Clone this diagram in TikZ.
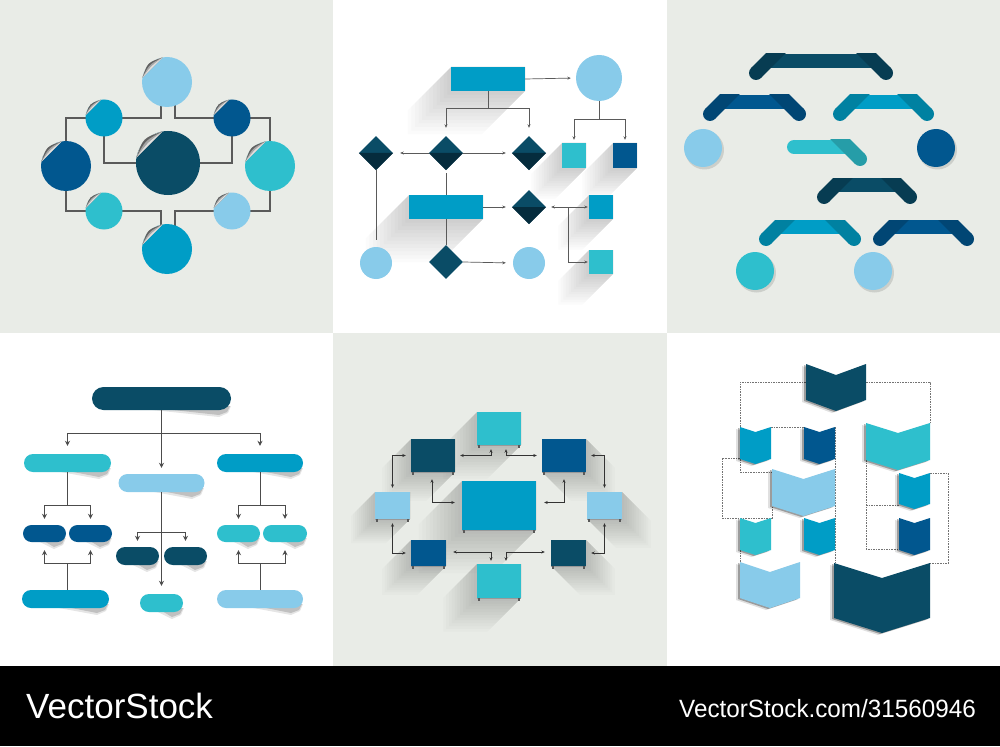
\documentclass[tikz,border=0pt]{standalone}
\usepackage{fontspec}
\setmainfont{Liberation Sans}
\usetikzlibrary{arrows.meta,shapes.geometric,calc}
\pgfdeclarelayer{panel}
\pgfdeclarelayer{lines}
\pgfsetlayers{panel,lines,main}
\definecolor{bgG}{HTML}{E9ECE7}
\definecolor{dteal}{HTML}{0A4C66}
\definecolor{dtealD}{HTML}{073C52}
\definecolor{dtealB}{HTML}{052C3D}
\definecolor{navy}{HTML}{01578F}
\definecolor{navyD}{HTML}{014674}
\definecolor{mblue}{HTML}{009DC6}
\definecolor{mblueD}{HTML}{0081A1}
\definecolor{turq}{HTML}{2EBFCD}
\definecolor{turqD}{HTML}{269DA8}
\definecolor{lblue}{HTML}{88CBEA}
\definecolor{lineG}{HTML}{5A5A5A}
% peeled sticker corner
\newcommand\stickcurl[2]{%
  \fill[bgG] ($(#1.center)+(-100:#2)$) arc[start angle=-100,end angle=-170,radius=#2] -- cycle;
  \fill[black!62] ($(#1.center)+(-170:#2)$) .. controls ($(#1.center)+(-135:{1.1*#2})$) .. ($(#1.center)+(-100:#2)$) -- cycle;
  \fill[black!35] ($(#1.center)+(-170:#2)$) .. controls ($(#1.center)+(-135:{1.0*#2})$) .. ($(#1.center)+(-100:#2)$) -- cycle;
  \fill[black!12] ($(#1.center)+(-170:#2)$) .. controls ($(#1.center)+(-135:{0.9*#2})$) .. ($(#1.center)+(-100:#2)$) -- cycle;
}
% bracket: xL, xR, yEnd, main, dark
\newcommand\brk[5]{%
  \fill[#4] ({#1+11},{#3-19}) rectangle ({#2-11},{#3-5});
  \begin{scope}
    \clip ({#1-20},{#3-19}) rectangle ({#2+20},{#3+20});
    \draw[#5,line width=14] (#1,#3) -- ({#1+30},{#3-30});
    \draw[#5,line width=14] (#2,#3) -- ({#2-30},{#3-30});
  \end{scope}
  \fill[#5] (#1,#3) circle (7);
  \fill[#5] (#2,#3) circle (7);
}
% long shadow to lower left: x1,y1,x2,y2,L
\newcommand\lshL[5]{%
  \foreach \f in {0.08,0.16,...,1.0}{%
  \fill[black,opacity=.014]
   (#1,#2) -- (#3,#2) -- (#3,#4) -- ({#3-#5*\f},{#4+#5*\f}) -- ({#1-#5*\f},{#4+#5*\f}) -- ({#1-#5*\f},{#2+#5*\f}) -- cycle;}
}
% long shadow to lower right
\newcommand\lshR[5]{%
  \foreach \f in {0.08,0.16,...,1.0}{%
  \fill[black,opacity=.014]
   (#1,#2) -- (#3,#2) -- ({#3+#5*\f},{#2+#5*\f}) -- ({#3+#5*\f},{#4+#5*\f}) -- ({#1+#5*\f},{#4+#5*\f}) -- (#1,#4) -- cycle;}
}
% pill shadow: x1,x2,ybottom
\newcommand\pshadow[3]{%
  \fill[black,opacity=.10] ({#1+0.3*(#2-#1)},{#3-2}) -- ({#2-12},{#3+7}) -- ({#2-3},{#3+3}) -- (#2,{#3-4}) -- cycle;
  \fill[black,opacity=.16] ({#1+0.45*(#2-#1)},{#3-2}) -- ({#2-12},{#3+5}) -- ({#2-4},{#3+2}) -- ({#2-1},{#3-4}) -- cycle;
}
% feet under panel-5 boxes
\newcommand\legs[1]{%
  \fill[black!40] (#1.south west) rectangle ($(#1.south east)+(0,1.2)$);
  \fill[black!65] ($(#1.south west)+(1.5,0)$) rectangle ($(#1.south west)+(3,3)$);
  \fill[black!65] ($(#1.south east)+(-3,0)$) rectangle ($(#1.south east)+(-1.5,3)$);
}
% chevron: x1,x2,ytop,depth,ybottom,colour
\newcommand\chev[6]{%
  \fill[black,opacity=.12] ({#1-4},{#3+2}) -- ({(#1+#2)/2-4},{#3+#4+2}) -- ({#2-4},{#3+2}) -- ({#2-4},{#5+2}) -- ({(#1+#2)/2-4},{#5+#4+2}) -- ({#1-4},{#5+2}) -- cycle;
  \fill[black,opacity=.30] ({#1-2},{#3+1}) -- ({(#1+#2)/2-2},{#3+#4+1}) -- ({#2-2},{#3+1}) -- ({#2-2},{#5+1}) -- ({(#1+#2)/2-2},{#5+#4+1}) -- ({#1-2},{#5+1}) -- cycle;
  \fill[#6] (#1,#3) -- ({(#1+#2)/2},{#3+#4}) -- (#2,#3) -- (#2,#5) -- ({(#1+#2)/2},{#5+#4}) -- (#1,#5) -- cycle;
}
\begin{document}
\begin{tikzpicture}[x=1pt,y=-1pt,
  disc/.style={circle, inner sep=0, draw=none},
  box/.style={rectangle, inner sep=0, draw=none},
  dia/.style={diamond, aspect=1, inner sep=0, minimum width=34, minimum height=34, draw=none},
  pill/.style={rectangle, inner sep=0, draw=none, rounded corners=9, minimum height=18},
  ln1/.style={draw=lineG, line width=1.1},
  ln2/.style={draw=lineG, line width=.7},
  a2/.style={draw=lineG, line width=.7, -{Stealth[length=3.5pt,width=3pt]}},
  ln4/.style={draw=black!70, line width=.8},
  a4/.style={draw=black!70, line width=.8, -{Stealth[length=5pt,width=5pt]}},
  a5/.style={draw=black!80, line width=.7, {Stealth[length=3.5pt,width=3pt]}-{Stealth[length=3.5pt,width=3pt]}},
  dsh/.style={draw=black!55, line width=.6, dash pattern=on 1.6pt off 1pt}]
\useasboundingbox (0,0) rectangle (1000,746);
\begin{pgfonlayer}{panel}
\fill[bgG] (0,0) rectangle (333,333);
\fill[white] (333,0) rectangle (667,333);
\fill[bgG] (667,0) rectangle (1000,333);
\fill[white] (0,333) rectangle (333,666);
\fill[bgG] (333,333) rectangle (667,666);
\fill[white] (667,333) rectangle (1000,666);
\fill[black] (0,666) rectangle (1000,746);
\end{pgfonlayer}

% ================= Panel 1 =================
\node[disc, fill=lblue, minimum size=50] (c1top) at (167,82) {};
\node[disc, fill=mblue, minimum size=37] (c1tl) at (104,118) {};
\node[disc, fill=navy, minimum size=37] (c1tr) at (232,118) {};
\node[disc, fill=navy, minimum size=50] (c1l) at (66,166) {};
\node[disc, fill=dteal, minimum size=64] (c1c) at (168,163) {};
\node[disc, fill=turq, minimum size=50] (c1r) at (270,166) {};
\node[disc, fill=turq, minimum size=37] (c1bl) at (104,211) {};
\node[disc, fill=lblue, minimum size=37] (c1br) at (232,211) {};
\node[disc, fill=mblue, minimum size=50] (c1b) at (167,249) {};
\begin{pgfonlayer}{lines}
\draw[ln1] ($(c1top.center)+(-6,0)$) |- (c1tl.center);
\draw[ln1] ($(c1top.center)+(8,0)$) |- (c1tr.center);
\draw[ln1] (c1tl.center) -| (c1l.center);
\draw[ln1] (c1tr.center) -| (c1r.center);
\draw[ln1] (c1tl.center) |- (c1c.center);
\draw[ln1] (c1tr.center) |- (c1c.center);
\draw[ln1] (c1l.center) |- (c1bl.center);
\draw[ln1] (c1r.center) |- (c1br.center);
\draw[ln1] (c1bl.center) -| ($(c1b.center)+(-6,0)$);
\draw[ln1] (c1br.center) -| ($(c1b.center)+(8,0)$);
\end{pgfonlayer}
\stickcurl{c1top}{25}
\stickcurl{c1tl}{18.5}
\stickcurl{c1tr}{18.5}
\stickcurl{c1l}{25}
\stickcurl{c1c}{32}
\stickcurl{c1r}{25}
\stickcurl{c1bl}{18.5}
\stickcurl{c1br}{18.5}
\stickcurl{c1b}{25}

% ================= Panel 2 =================
\lshL{451}{67}{525}{91}{45}
\lshL{562}{143}{586}{168}{32}
\lshL{613}{143}{637}{168}{32}
\lshL{409}{195}{483}{219}{45}
\lshL{589}{195}{613}{219}{32}
\lshL{589}{250}{613}{274}{32}
\node[box, fill=mblue, minimum width=74, minimum height=24] (r2a) at (488,79) {};
\node[disc, fill=lblue, minimum size=46] (c2a) at (599,78) {};
\node[dia, fill=dteal] (d2l) at (376,153) {};
\node[dia, fill=dteal] (d2m) at (446,153) {};
\node[dia, fill=dteal] (d2r) at (529,153) {};
\fill[dtealB] (d2l.west) -- (d2l.east) -- (d2l.south) -- cycle;
\fill[dtealB] (d2m.west) -- (d2m.east) -- (d2m.south) -- cycle;
\fill[dtealB] (d2r.west) -- (d2r.east) -- (d2r.south) -- cycle;
\node[box, fill=turq, minimum width=24, minimum height=25] (s2t) at (574,155.5) {};
\node[box, fill=navy, minimum width=24, minimum height=25] (s2n) at (625,155.5) {};
\node[box, fill=mblue, minimum width=74, minimum height=24] (r2b) at (446,207) {};
\node[dia, fill=dteal] (d2b) at (529,207) {};
\fill[dtealB] (d2b.west) -- (d2b.east) -- (d2b.south) -- cycle;
\node[box, fill=mblue, minimum width=24, minimum height=24] (s2m) at (601,207) {};
\node[box, fill=turq, minimum width=24, minimum height=24] (s2q) at (601,262) {};
\node[disc, fill=lblue, minimum size=32] (c2l) at (376,263) {};
\node[dia, fill=dteal] (d2c) at (446,262) {};
\node[disc, fill=lblue, minimum size=32] (c2r) at (529,263) {};
\draw[a2, shorten >=5] (r2a.east) -- (c2a.west);
\coordinate (j2a) at ($(r2a.south)+(0,17)$);
\draw[ln2] (r2a.south) -- (j2a);
\draw[a2, shorten >=8] (j2a) -| (d2m.north);
\draw[a2, shorten >=8] (j2a) -| (d2r.north);
\coordinate (j2b) at ($(c2a.south)+(0,18)$);
\draw[ln2] (c2a.south) -- (j2b);
\draw[a2, shorten >=3] (j2b) -| (s2t.north);
\draw[a2, shorten >=3] (j2b) -| (s2n.north);
\draw[a2, shorten >=7] (d2m.west) -- (d2l.east);
\draw[a2, shorten >=6] (d2m.east) -- (d2r.west);
\draw[ln2, shorten >=7] (d2l.south) -- (c2l.north);
\draw[ln2, shorten <=3] (d2m.south) -- (r2b.north);
\draw[ln2] (r2b.south) -- (d2c.north);
\draw[a2, shorten >=7] (d2c.east) -- (c2r.west);
\draw[a2, shorten >=6] (r2b.east) -- (d2b.west);
\coordinate (j2c) at ($(d2b.east)+(22,0)$);
\draw[a2, shorten >=5] (j2c) -- (d2b.east);
\draw[a2, shorten >=1] (j2c) -- (s2m.west);
\draw[a2, shorten >=1] (j2c) |- (s2q.west);

% ================= Panel 3 =================
\brk{756}{886}{73}{dteal}{dtealD}
\brk{710}{799}{114}{navy}{navyD}
\brk{840}{927}{114}{mblue}{mblueD}
\fill[turq] (794,140) rectangle (849,154);
\fill[turq] (794,147) circle (7);
\begin{scope}
  \clip (780,140) rectangle (880,180);
  \draw[turqD,line width=14] (860,159) -- (830,129);
\end{scope}
\fill[turqD] (860,159) circle (7);
\brk{824}{910}{197}{dteal}{dtealD}
\brk{766}{854}{239}{mblue}{mblueD}
\brk{880}{967}{239}{navy}{navyD}
\fill[black,opacity=.12] (704.5,150) circle (19.5);
\fill[black,opacity=.12] (937.5,150) circle (19.5);
\fill[black,opacity=.12] (756.5,273) circle (19.5);
\fill[black,opacity=.12] (874.5,273) circle (19.5);
\node[disc, fill=lblue, minimum size=38] (c3a) at (703,148) {};
\node[disc, fill=navy, minimum size=38] (c3b) at (936,148) {};
\node[disc, fill=turq, minimum size=38] (c3c) at (755,271) {};
\node[disc, fill=lblue, minimum size=38] (c3d) at (873,271) {};

% ================= Panel 4 =================
\pshadow{92}{231}{410}
\pshadow{24}{111}{472}
\pshadow{217}{303}{472}
\pshadow{118}{204}{492}
\pshadow{23}{66}{542}
\pshadow{69}{112}{542}
\pshadow{116}{159}{565}
\pshadow{164}{207}{565}
\pshadow{217}{260}{542}
\pshadow{263}{307}{542}
\pshadow{22}{109}{608}
\pshadow{141}{184}{612}
\pshadow{217}{303}{608}
\node[pill, fill=dteal, minimum width=139, minimum height=23, rounded corners=11.5] (p4top) at (161.5,398.5) {};
\node[pill, fill=turq, minimum width=87] (p4l) at (67.5,463) {};
\node[pill, fill=mblue, minimum width=86] (p4r) at (260,463) {};
\node[pill, fill=lblue, minimum width=86] (p4m) at (161.5,483) {};
\node[pill, fill=navy, minimum width=43, minimum height=17, rounded corners=8.5] (p4n1) at (44.5,533.5) {};
\node[pill, fill=navy, minimum width=43, minimum height=17, rounded corners=8.5] (p4n2) at (90.5,533.5) {};
\node[pill, fill=dteal, minimum width=43] (p4d1) at (137.5,556) {};
\node[pill, fill=dteal, minimum width=43] (p4d2) at (185.5,556) {};
\node[pill, fill=turq, minimum width=43, minimum height=17, rounded corners=8.5] (p4t1) at (238.5,533.5) {};
\node[pill, fill=turq, minimum width=44, minimum height=17, rounded corners=8.5] (p4t2) at (285,533.5) {};
\node[pill, fill=mblue, minimum width=87] (p4bl) at (65.5,599) {};
\node[pill, fill=turq, minimum width=43] (p4bm) at (161.5,603) {};
\node[pill, fill=lblue, minimum width=86] (p4br) at (260,599) {};
\coordinate (j4a) at ($(p4top.south)+(0,23)$);
\draw[ln4] (p4top.south) -- (j4a);
\draw[a4, shorten >=6] (j4a) -- (p4m.north);
\draw[a4, shorten >=8] (j4a) -| (p4l.north);
\draw[a4, shorten >=8] (j4a) -| (p4r.north);
\coordinate (j4b) at ($(p4l.south)+(0,33)$);
\draw[ln4] (p4l.south) -- (j4b);
\draw[a4, shorten >=6] (j4b) -| (p4n1.north);
\draw[a4, shorten >=6] (j4b) -| (p4n2.north);
\coordinate (j4c) at ($(p4l.south |- p4bl.north)+(0,-26)$);
\draw[ln4] (j4c) -- (j4c |- p4bl.north);
\draw[a4, shorten >=8] (j4c) -| (p4n1.south);
\draw[a4, shorten >=8] (j4c) -| (p4n2.south);
\draw[a4, shorten >=8] (p4m.south) -- (p4bm.north);
\coordinate (j4d) at ($(p4m.south)+(0,40)$);
\draw[a4, shorten >=6] (j4d) -| (p4d1.north);
\draw[a4, shorten >=6] (j4d) -| (p4d2.north);
\coordinate (j4e) at ($(p4r.south)+(0,33)$);
\draw[ln4] (p4r.south) -- (j4e);
\draw[a4, shorten >=6] (j4e) -| (p4t1.north);
\draw[a4, shorten >=6] (j4e) -| (p4t2.north);
\coordinate (j4f) at ($(p4r.south |- p4br.north)+(0,-26)$);
\draw[ln4] (j4f) -- (j4f |- p4br.north);
\draw[a4, shorten >=8] (j4f) -| (p4t1.south);
\draw[a4, shorten >=8] (j4f) -| (p4t2.south);

% ================= Panel 5 =================
\lshL{477}{412}{521}{445}{35}
\lshL{411}{439}{455}{472}{30}
\lshL{462}{481}{536}{530}{45}
\lshL{375}{492}{410}{519}{25}
\lshL{411}{540}{446}{566}{30}
\lshL{477}{564}{521}{598}{35}
\lshR{542}{439}{586}{472}{30}
\lshR{587}{492}{622}{519}{30}
\lshR{551}{540}{586}{566}{30}
\node[box, fill=turq, minimum width=44, minimum height=33] (r5t) at (499,428.5) {};
\node[box, fill=dteal, minimum width=44, minimum height=33] (r5a) at (433,455.5) {};
\node[box, fill=navy, minimum width=44, minimum height=33] (r5b) at (564,455.5) {};
\node[box, fill=mblue, minimum width=74, minimum height=49] (r5c) at (499,505.5) {};
\node[box, fill=lblue, minimum width=35, minimum height=27] (r5l) at (392.5,505.5) {};
\node[box, fill=lblue, minimum width=35, minimum height=27] (r5r) at (604.5,505.5) {};
\node[box, fill=navy, minimum width=35, minimum height=26] (r5d) at (428.5,553) {};
\node[box, fill=dteal, minimum width=35, minimum height=26] (r5e) at (568.5,553) {};
\node[box, fill=turq, minimum width=44, minimum height=34] (r5u) at (499,581) {};
\legs{r5t}\legs{r5a}\legs{r5b}\legs{r5c}\legs{r5l}\legs{r5r}\legs{r5d}\legs{r5e}\legs{r5u}
\draw[a5, shorten <=5, shorten >=4] (r5a.east) -| ($(r5t.south)+(-8,0)$);
\draw[a5, shorten <=4, shorten >=5] ($(r5t.south)+(7,0)$) |- (r5b.west);
\draw[a5, shorten <=5, shorten >=4] (r5a.west) -| (r5l.north);
\draw[a5, shorten <=5, shorten >=4] (r5b.east) -| (r5r.north);
\draw[a5, shorten <=7, shorten >=7] ($(r5a.south)+(-1,0)$) |- ($(r5c.west)+(0,-3)$);
\draw[a5, shorten <=8, shorten >=7] ($(r5c.east)+(0,-3)$) -| (r5b.south);
\draw[a5, shorten <=4, shorten >=5] (r5l.south) |- (r5d.west);
\draw[a5, shorten <=4, shorten >=5] (r5r.south) |- (r5e.east);
\draw[a5, shorten <=7, shorten >=3] ($(r5d.east)+(0,-1)$) -| ($(r5u.north)+(-8,0)$);
\draw[a5, shorten <=6, shorten >=3] ($(r5e.west)+(0,-1)$) -| ($(r5u.north)+(7,0)$);

% ================= Panel 6 =================
\draw[dsh] (806,382) -- (740,382) -- (740,472) -- (772,472);
\draw[dsh] (866,382) -- (930,382) -- (930,423);
\draw[dsh] (771,427) -- (804,427);
\draw[dsh] (740,458) -- (722,458) -- (722,518) -- (772,518) -- (772,506);
\draw[dsh] (835,427) -- (835,563);
\draw[dsh] (740,550) -- (740,562);
\draw[dsh] (866,460) -- (866,549) -- (899,549);
\draw[dsh] (866,505) -- (899,505);
\draw[dsh] (930,473) -- (948,473) -- (948,563) -- (930,563);
\chev{806}{866}{364}{11}{400}{dteal}
\chev{740}{771}{427}{5}{459}{mblue}
\chev{804}{835}{427}{5}{459}{navy}
\chev{866}{930}{423}{10}{460}{turq}
\chev{772}{835}{469}{10}{506}{lblue}
\chev{899}{930}{473}{5}{504}{mblue}
\chev{899}{930}{518}{5}{550}{navy}
\chev{740}{771}{518}{5}{550}{turq}
\chev{804}{835}{518}{5}{550}{mblue}
\chev{740}{800}{562}{10}{598}{lblue}
\chev{834}{930}{563}{15}{618}{dteal}

% ================= Banner =================
\node[anchor=base west, text=white, inner sep=0, font=\fontsize{35}{40}\selectfont] (vs1) at (26,718) {VectorStock};
\node[anchor=base east, text=white, inner sep=0, font=\fontsize{25}{30}\selectfont] (vs2) at (976,717) {\scalebox{0.97}[1]{VectorStock.com/31560946}};
\end{tikzpicture}
\end{document}
